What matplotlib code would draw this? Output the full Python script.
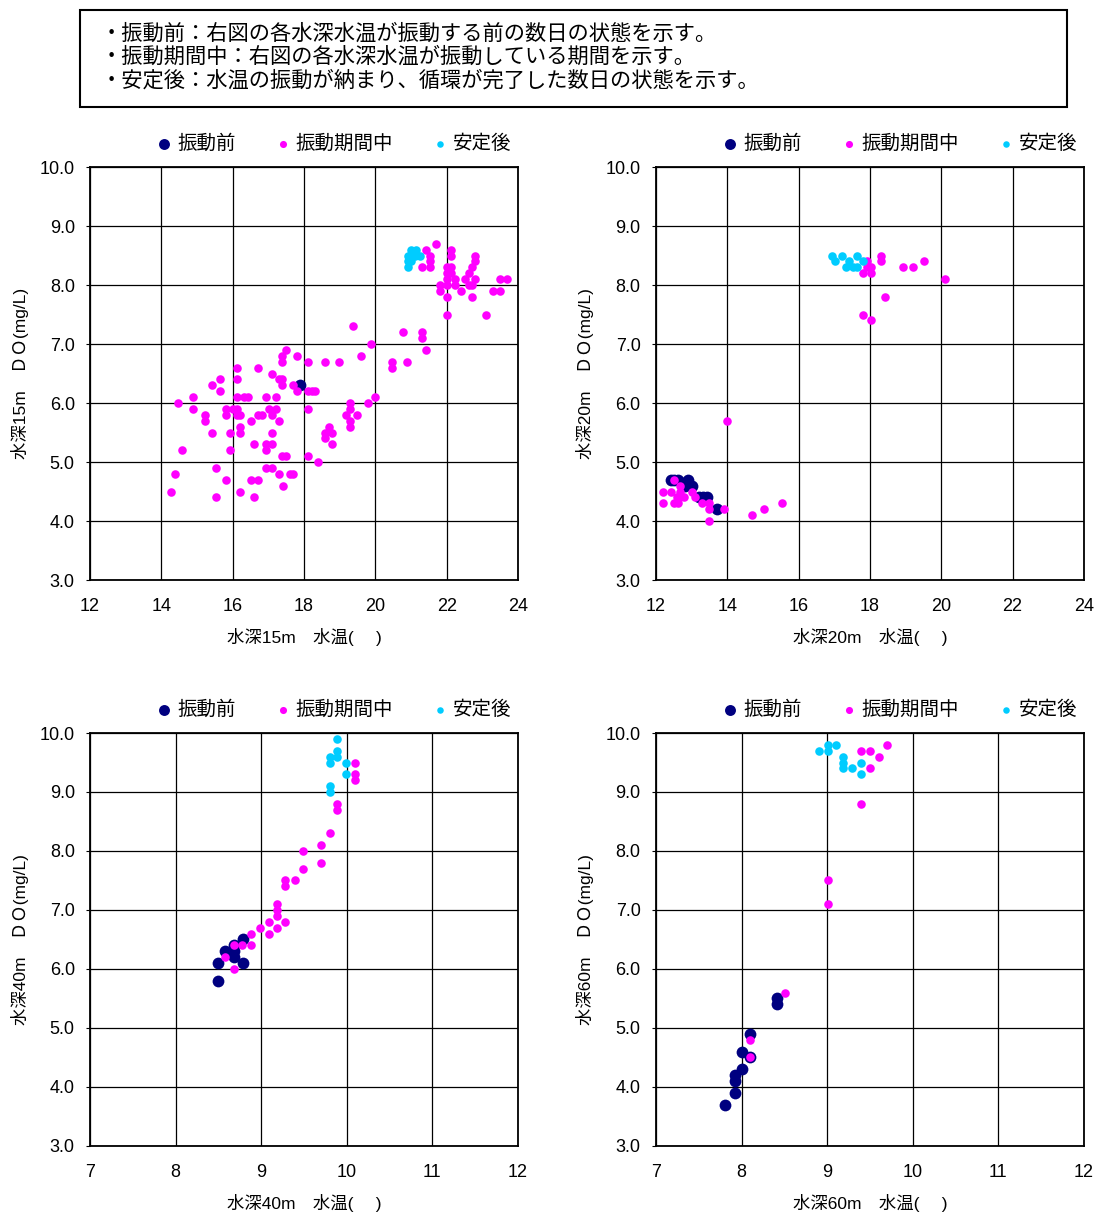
#!/usr/bin/env python3

import matplotlib
matplotlib.use('Agg')
import matplotlib.pyplot as plt
from matplotlib.patches import Rectangle

plt.rcParams['font.family'] = ['Liberation Sans', 'Noto Sans CJK JP', 'DejaVu Sans']

LABELS = ['振動前', '振動期間中', '安定後']
COLORS = ['#000080', '#ff00ff', '#00ccff']
SIZES = [72, 38, 38]

NOTES = ['・振動前：右図の各水深水温が振動する前の数日の状態を示す。',
         '・振動期間中：右図の各水深水温が振動している期間を示す。',
         '・安定後：水温の振動が納まり、循環が完了した数日の状態を示す。']

# depth 15m
t15_before = [17.9]
do15_before = [6.3]
t15_during = [21.71, 22.11, 22.11, 22.80, 22.80, 21.43, 21.52, 21.52, 21.32, 21.52,
              22.02, 22.11, 22.02, 22.11, 22.02, 22.22, 21.80, 22.02, 22.22, 21.80,
              22.02, 22.71, 22.62, 22.50, 22.80, 22.62, 22.71, 22.41, 22.71, 23.50,
              23.70, 23.30, 23.50, 22.02, 23.09, 19.38, 20.78, 21.32, 21.32, 21.43,
              19.89, 19.59, 20.48, 20.48, 20.89, 17.50, 17.39, 17.39, 17.80, 18.10,
              18.59, 18.99, 16.11, 16.71, 16.11, 17.10, 17.30, 17.39, 17.39, 17.69,
              17.80, 18.10, 18.21, 18.31, 15.42, 15.63, 15.63, 14.88, 14.48, 14.88,
              15.21, 15.21, 15.81, 15.81, 16.01, 16.11, 16.11, 16.31, 16.43, 16.11,
              16.21, 16.21, 16.21, 15.42, 15.92, 16.51, 16.71, 16.82, 16.92, 17.21,
              17.01, 17.21, 17.10, 17.30, 18.10, 17.10, 16.61, 16.92, 17.10, 16.92,
              17.39, 17.50, 18.10, 18.40, 14.58, 15.92, 19.28, 19.28, 19.28, 19.28,
              19.19, 19.49, 19.79, 19.99, 18.69, 18.59, 18.79, 18.59, 18.79, 14.38,
              14.28, 15.52, 15.81, 15.52, 16.21, 16.51, 16.71, 16.92, 17.10, 17.30,
              17.60, 17.69, 17.41, 16.61]
do15_during = [8.7, 8.6, 8.5, 8.5, 8.4, 8.6, 8.5, 8.4, 8.3, 8.3,
               8.3, 8.3, 8.2, 8.2, 8.1, 8.1, 8.0, 8.0, 8.0, 7.9,
               7.8, 8.3, 8.2, 8.1, 8.1, 8.0, 8.0, 7.9, 7.8, 8.1,
               8.1, 7.9, 7.9, 7.5, 7.5, 7.3, 7.2, 7.2, 7.1, 6.9,
               7.0, 6.8, 6.7, 6.6, 6.7, 6.9, 6.8, 6.7, 6.8, 6.7,
               6.7, 6.7, 6.6, 6.6, 6.4, 6.5, 6.4, 6.4, 6.3, 6.3,
               6.2, 6.2, 6.2, 6.2, 6.3, 6.4, 6.2, 6.1, 6.0, 5.9,
               5.8, 5.7, 5.9, 5.8, 5.9, 5.9, 6.1, 6.1, 6.1, 5.8,
               5.8, 5.6, 5.5, 5.5, 5.5, 5.7, 5.8, 5.8, 6.1, 6.1,
               5.9, 5.9, 5.8, 5.7, 5.9, 5.5, 5.3, 5.3, 5.3, 5.2,
               5.1, 5.1, 5.1, 5.0, 5.2, 5.2, 6.0, 5.9, 5.7, 5.6,
               5.8, 5.8, 6.0, 6.1, 5.6, 5.5, 5.5, 5.4, 5.3, 4.8,
               4.5, 4.9, 4.7, 4.4, 4.5, 4.7, 4.7, 4.9, 4.9, 4.8,
               4.8, 4.8, 4.6, 4.4]
t15_after = [21.0, 21.15, 20.91, 21.1, 21.24, 20.91, 21.0, 20.91]
do15_after = [8.6, 8.6, 8.5, 8.5, 8.5, 8.4, 8.4, 8.3]

# depth 20m
t20_before = [12.41, 12.52, 12.62, 12.91, 13.01, 12.81, 12.72, 13.22, 13.33, 13.42, 13.70]
do20_before = [4.7, 4.7, 4.7, 4.7, 4.6, 4.6, 4.65, 4.4, 4.4, 4.4, 4.2]
t20_during = [12.21, 12.41, 12.51, 12.67, 12.67, 12.67, 12.80, 12.58, 13.01, 13.09,
              12.21, 12.51, 12.62, 13.28, 13.50, 13.50, 13.91, 13.50, 14.69, 15.04,
              15.54, 14.0, 17.91, 18.02, 17.91, 17.81, 18.02, 18.31, 18.31, 18.92,
              19.21, 19.51, 20.10, 18.42, 17.81, 18.02]
do20_during = [4.5, 4.5, 4.7, 4.6, 4.5, 4.4, 4.4, 4.4, 4.5, 4.4,
               4.3, 4.3, 4.3, 4.3, 4.3, 4.2, 4.2, 4.0, 4.1, 4.2,
               4.3, 5.7, 8.4, 8.3, 8.3, 8.2, 8.2, 8.5, 8.4, 8.3,
               8.3, 8.4, 8.1, 7.8, 7.5, 7.4]
t20_after = [16.93, 17.22, 17.63, 17.02, 17.42, 17.81, 17.33, 17.53, 17.63]
do20_after = [8.5, 8.5, 8.5, 8.4, 8.4, 8.4, 8.3, 8.3, 8.3]

# depth 40m
t40_before = [8.79, 8.68, 8.58, 8.68, 8.68, 8.79, 8.49, 8.49]
do40_before = [6.5, 6.4, 6.3, 6.3, 6.2, 6.1, 6.1, 5.8]
t40_during = [10.09, 10.09, 10.09, 9.88, 9.88, 9.80, 9.70, 9.70, 9.49, 9.49,
              9.39, 9.28, 9.28, 9.18, 9.18, 9.18, 9.28, 9.18, 9.09, 9.09,
              8.99, 8.88, 8.88, 8.78, 8.68, 8.58, 8.68]
do40_during = [9.5, 9.3, 9.2, 8.8, 8.7, 8.3, 8.1, 7.8, 8.0, 7.7,
               7.5, 7.5, 7.4, 7.1, 7.0, 6.9, 6.8, 6.7, 6.8, 6.6,
               6.7, 6.6, 6.4, 6.4, 6.4, 6.2, 6.0]
t40_after = [9.88, 9.88, 9.80, 9.88, 9.80, 9.99, 9.99, 9.80, 9.80]
do40_after = [9.9, 9.7, 9.6, 9.6, 9.5, 9.5, 9.3, 9.1, 9.0]

# depth 60m
t60_before = [8.41, 8.41, 8.10, 8.0, 8.10, 8.0, 7.92, 7.92, 7.92, 7.81]
do60_before = [5.5, 5.4, 4.9, 4.6, 4.5, 4.3, 4.2, 4.1, 3.9, 3.7]
t60_during = [9.40, 9.50, 9.60, 9.70, 9.50, 9.40, 9.01, 9.01, 8.51, 8.10, 8.10]
do60_during = [9.7, 9.7, 9.6, 9.8, 9.4, 8.8, 7.5, 7.1, 5.6, 4.8, 4.5]
t60_after = [8.90, 9.01, 9.01, 9.10, 9.19, 9.19, 9.19, 9.29, 9.40, 9.40]
do60_after = [9.7, 9.8, 9.7, 9.8, 9.6, 9.5, 9.4, 9.4, 9.5, 9.3]

DO_TICKS = [3, 4, 5, 6, 7, 8, 9, 10]


def plotPanel(ax, depth, series, xticks):
    for (t, do), label, color, size in zip(series, LABELS, COLORS, SIZES):
        ax.scatter(t, do, s=size, c=color, label=label, linewidths=0, zorder=3)
    ax.set_xlim(xticks[0], xticks[-1])
    ax.set_ylim(3, 10)
    ax.set_xticks(xticks)
    ax.set_yticks(DO_TICKS)
    ax.set_xticklabels([str(x) for x in xticks])
    ax.set_yticklabels(['%.1f' % y for y in DO_TICKS])
    ax.grid(True, color='black', linewidth=0.9)
    ax.set_axisbelow(True)
    for sp in ax.spines.values():
        sp.set_linewidth(1.3)
    ax.tick_params(axis='x', length=0, pad=13, labelsize=13)
    ax.tick_params(axis='y', length=3, pad=8, labelsize=13)
    ax.set_xlabel('水深%dm　水温(　 )' % depth, fontsize=12.5, labelpad=9)
    ax.set_ylabel('水深%dm　ＤＯ(mg/L)' % depth, fontsize=12.5, labelpad=8)
    leg = ax.legend(loc='center', bbox_to_anchor=(0.570, 1.057), ncol=3,
                    frameon=False, fontsize=14, handlelength=0.8,
                    handletextpad=0.27, columnspacing=2.0, borderaxespad=0,
                    scatterpoints=1)
    for handle, size in zip(leg.legend_handles, [62, 26, 22]):
        handle.set_sizes([size])


if __name__ == "__main__":
    fig = plt.figure(figsize=(10.98, 12.16), dpi=100)

    fig.patches.append(Rectangle((0.0729, 0.9120), 0.8989, 0.0798,
                                 transform=fig.transFigure, fill=False,
                                 edgecolor='black', linewidth=1.5))
    for i, line in enumerate(NOTES):
        fig.text(0.0920, 0.9725 - i * 0.0194, line, fontsize=15.3,
                 va='center', ha='left')

    w, h = 0.3898, 0.3396
    ax1 = fig.add_axes([0.0820, 0.5230, w, h])
    ax2 = fig.add_axes([0.5974, 0.5230, w, h])
    ax3 = fig.add_axes([0.0820, 0.0576, w, h])
    ax4 = fig.add_axes([0.5974, 0.0576, w, h])

    plotPanel(ax1, 15, [(t15_before, do15_before), (t15_during, do15_during),
                        (t15_after, do15_after)], [12, 14, 16, 18, 20, 22, 24])
    plotPanel(ax2, 20, [(t20_before, do20_before), (t20_during, do20_during),
                        (t20_after, do20_after)], [12, 14, 16, 18, 20, 22, 24])
    plotPanel(ax3, 40, [(t40_before, do40_before), (t40_during, do40_during),
                        (t40_after, do40_after)], [7, 8, 9, 10, 11, 12])
    plotPanel(ax4, 60, [(t60_before, do60_before), (t60_during, do60_during),
                        (t60_after, do60_after)], [7, 8, 9, 10, 11, 12])

    fig.savefig('out.png', dpi=100)
